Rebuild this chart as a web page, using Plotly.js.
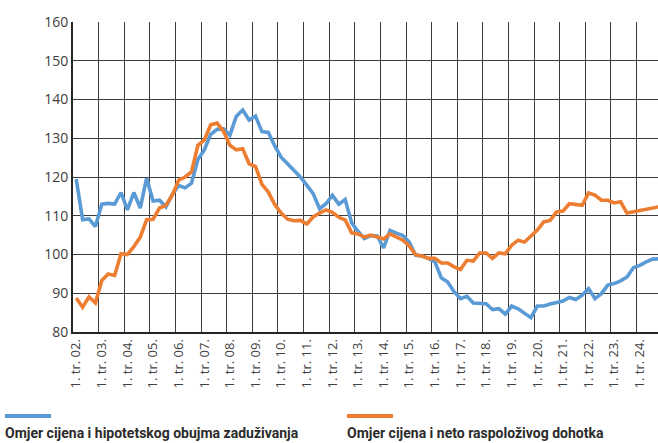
<!DOCTYPE html>
<html>
<head>
<meta charset="utf-8">
<script src="https://cdn.plot.ly/plotly-3.0.1.min.js"></script>
<style>html,body{margin:0;padding:0;background:#fff;}#chart{width:658px;height:443px;}</style>
</head>
<body>
<div id="chart"></div>
<script>
// Quarterly data, 1. tr. 2002 – 4. tr. 2024
const years = ["02","03","04","05","06","07","08","09","10","11","12","13","14","15","16","17","18","19","20","21","22","23","24"];
const tickLabels = years.map(y => "1. tr. " + y + ".");

const seriesNames = ["Omjer cijena i hipotetskog obujma zaduživanja", "Omjer cijena i neto raspoloživog dohotka"];

const mortgageRatio = [
  119.5, 109.0, 109.2, 107.2,
  113.0, 113.2, 113.0, 116.0,
  111.5, 116.0, 112.0, 119.7,
  113.8, 114.0, 112.3, 115.5,
  117.8, 117.2, 118.4, 124.5,
  127.0, 131.0, 132.3, 132.4,
  130.8, 135.7, 137.3, 134.7,
  135.7, 131.7, 131.5, 128.0,
  125.1, 123.5, 121.9, 120.0,
  117.9, 115.7, 111.8, 113.1,
  115.3, 113.0, 114.2, 108.2,
  106.0, 104.1, 104.9, 104.8,
  101.7, 106.2, 105.5, 104.9,
  103.2, 99.8, 99.6, 99.0,
  98.1, 94.0, 92.9, 90.4,
  88.6, 89.2, 87.5, 87.5,
  87.3, 85.8, 86.0, 84.6,
  86.7, 86.0, 84.8, 83.7,
  86.7, 86.7, 87.2, 87.5,
  88.0, 88.9, 88.4, 89.5,
  91.2, 88.6, 89.9, 92.1,
  92.5, 93.2, 94.2, 96.6,
  97.2, 98.1, 98.8, 98.9
];

const incomeRatio = [
  88.8, 86.4, 89.1, 87.5,
  93.3, 95.0, 94.6, 100.2,
  100.0, 102.0, 104.5, 109.0,
  109.1, 112.0, 112.7, 115.3,
  119.2, 120.0, 121.3, 128.2,
  129.5, 133.5, 133.9, 131.8,
  128.2, 127.0, 127.3, 123.4,
  122.7, 118.1, 116.1, 112.9,
  110.7, 109.1, 108.7, 108.8,
  107.9, 109.7, 110.7, 111.5,
  110.9, 109.6, 108.9, 105.6,
  105.3, 104.5, 105.0, 104.4,
  104.0, 105.3, 104.5, 103.7,
  102.2, 99.9, 99.6, 99.0,
  99.0, 97.8, 97.8, 96.8,
  96.1, 98.5, 98.3, 100.4,
  100.4, 99.0, 100.4, 100.2,
  102.4, 103.7, 103.2, 104.8,
  106.3, 108.4, 108.8, 111.0,
  111.2, 113.1, 112.9, 112.7,
  115.9, 115.3, 114.0, 114.0,
  113.3, 113.6, 110.7, 111.0,
  111.2, 111.6, 112.0, 112.3
];

const colors = ["#5B9BD5", "#ED7D31"];

const xIdx = mortgageRatio.map((_, i) => i);
const tickVals = years.map((_, i) => i * 4);
const gridVals = years.map((_, i) => i * 4 - 0.5).slice(1);

const W = 658, H = 443;
const mL = 73, mR = 0, mT = 22, mB = 111;
const plotW = W - mL - mR, plotH = H - mT - mB;
const px = x => (x - mL) / plotW;
const py = y => (H - mB - y) / plotH;

const traces = [
  {x: xIdx, y: mortgageRatio, type: "scatter", mode: "lines", name: seriesNames[0],
   line: {color: colors[0], width: 3.6}},
  {x: xIdx, y: incomeRatio, type: "scatter", mode: "lines", name: seriesNames[1],
   line: {color: colors[1], width: 3.6}}
];

const legendX = [5, 347];
const shapes = legendX.map((lx, i) => ({
  type: "line", xref: "paper", yref: "paper",
  x0: px(lx), x1: px(lx + 46), y0: py(416), y1: py(416),
  line: {color: colors[i], width: 4}
}));
const annotations = legendX.map((lx, i) => ({
  xref: "paper", yref: "paper", x: px(lx - 2), y: py(433), xanchor: "left", yanchor: "middle",
  text: "<b>" + seriesNames[i] + "</b>", showarrow: false,
  font: {family: "Roboto, sans-serif", size: 14, color: "#2b2b2b"}
}));

const layout = {
  width: W, height: H,
  margin: {l: mL, r: mR, t: mT, b: mB, pad: 0},
  paper_bgcolor: "#fff", plot_bgcolor: "#fff",
  showlegend: false,
  font: {family: "Open Sans, sans-serif", color: "#404040"},
  xaxis: {
    type: "linear", range: [-0.5, 90.84], fixedrange: true,
    tickmode: "array", tickvals: tickVals, ticktext: tickLabels,
    tickangle: -90, tickfont: {size: 13, color: "#404040"},
    showgrid: false, zeroline: false,
    showline: true, linecolor: "#262626", linewidth: 2,
    ticks: "",
    minor: {tickmode: "array", tickvals: gridVals, showgrid: true, gridcolor: "#3c3c3c", gridwidth: 1, ticks: ""}
  },
  yaxis: {
    range: [80, 160], dtick: 10, tick0: 80, fixedrange: true,
    tickfont: {size: 14, color: "#404040"},
    showgrid: true, gridcolor: "#3c3c3c", gridwidth: 1,
    zeroline: false, showline: true, linecolor: "#262626", linewidth: 2,
    ticks: ""
  },
  shapes: shapes,
  annotations: annotations
};

Plotly.newPlot("chart", traces, layout, {displayModeBar: false, staticPlot: true});
</script>
</body>
</html>
